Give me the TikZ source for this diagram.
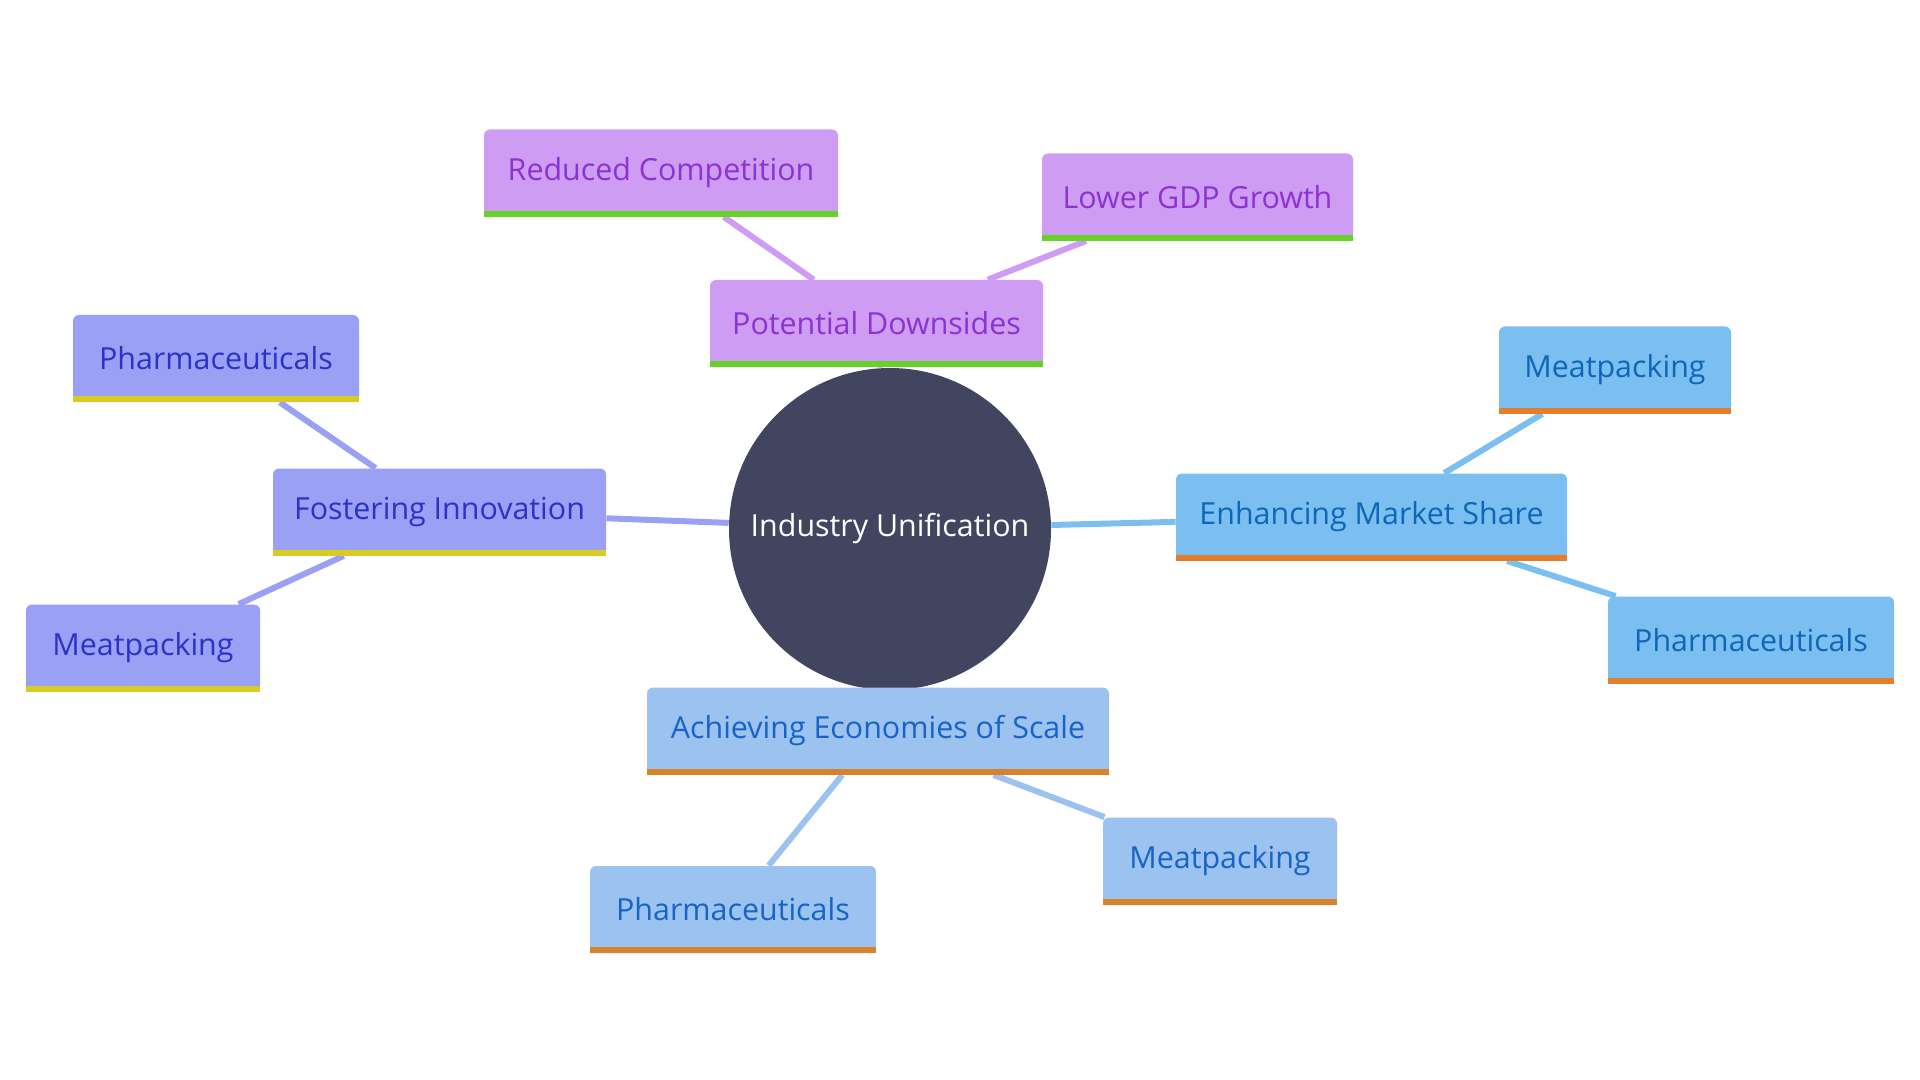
\documentclass[tikz,border=0pt]{standalone}
\usepackage{fontspec}
\setmainfont{Open Sans}
\usetikzlibrary{backgrounds}
\definecolor{hubfill}{HTML}{414560}
\definecolor{downfill}{HTML}{CE9CF2}
\definecolor{downtext}{HTML}{8C32D2}
\definecolor{downbar}{HTML}{66D126}
\definecolor{innofill}{HTML}{9AA0F3}
\definecolor{innotext}{HTML}{2D32C6}
\definecolor{innobar}{HTML}{D8CB22}
\definecolor{sharefill}{HTML}{7BBFF0}
\definecolor{sharetext}{HTML}{0F66B8}
\definecolor{sharebar}{HTML}{E57E2A}
\definecolor{scalefill}{HTML}{9CC3F0}
\definecolor{scaletext}{HTML}{1763C6}
\definecolor{scalebar}{HTML}{D8832A}
\begin{document}
\begin{tikzpicture}[x=0.5pt,y=-0.5pt,
  box/.style={rounded corners=3pt,minimum height=43.5pt,inner sep=0pt,
    font=\fontsize{15.2}{18}\selectfont},
  hub/.style={circle,fill=hubfill,text=white,minimum size=161pt,inner sep=0pt,
    font=\fontsize{15.2}{18}\selectfont},
  downbox/.style={box,fill=downfill,text=downtext},
  innobox/.style={box,fill=innofill,text=innotext},
  sharebox/.style={box,fill=sharefill,text=sharetext},
  scalebox/.style={box,fill=scalefill,text=scaletext},
  link/.style={line width=3pt}]
\useasboundingbox (0,0) rectangle (1920,1080);
\node[hub] (hub) at (890,529) {Industry Unification};
% potential downsides
\node[downbox,minimum width=166.5pt] (down) at (876.5,323.5) {Potential Downsides};
\node[downbox,minimum width=177pt] (comp) at (661,173) {Reduced Competition};
\node[downbox,minimum width=155.5pt] (gdp) at (1197.5,197) {Lower GDP Growth};
% fostering innovation
\node[innobox,minimum width=166.5pt] (inno) at (439.5,512) {Fostering Innovation};
\node[innobox,minimum width=143pt] (innopharma) at (216,358.5) {Pharmaceuticals};
\node[innobox,minimum width=117pt] (innomeat) at (143,648) {Meatpacking};
% enhancing market share
\node[sharebox,minimum width=195.5pt] (share) at (1371.5,517) {Enhancing Market Share};
\node[sharebox,minimum width=116pt] (sharemeat) at (1615,370) {Meatpacking};
\node[sharebox,minimum width=143pt] (sharepharma) at (1751,640) {Pharmaceuticals};
% economies of scale
\node[scalebox,minimum width=231pt] (scale) at (878,731) {Achieving Economies of Scale};
\node[scalebox,minimum width=143pt] (scalepharma) at (733,909.5) {Pharmaceuticals};
\node[scalebox,minimum width=117pt] (scalemeat) at (1220,861) {Meatpacking};
\foreach \n/\c in {down/downbar,comp/downbar,gdp/downbar,
    inno/innobar,innopharma/innobar,innomeat/innobar,
    share/sharebar,sharemeat/sharebar,sharepharma/sharebar,
    scale/scalebar,scalepharma/scalebar,scalemeat/scalebar}
  \fill[\c] (\n.south west) rectangle ([yshift=3pt]\n.south east);
\begin{scope}[on background layer]
\draw[link,downfill] (hub) -- (down) (down) -- (comp) (down) -- (gdp);
\draw[link,innofill] (hub) -- (inno) (inno) -- (innopharma) (inno) -- (innomeat);
\draw[link,sharefill] (hub) -- (share) (share) -- (sharemeat) (share) -- (sharepharma);
\draw[link,scalefill] (hub) -- (scale) (scale) -- (scalepharma) (scale) -- (scalemeat);
\end{scope}
\end{tikzpicture}
\end{document}
